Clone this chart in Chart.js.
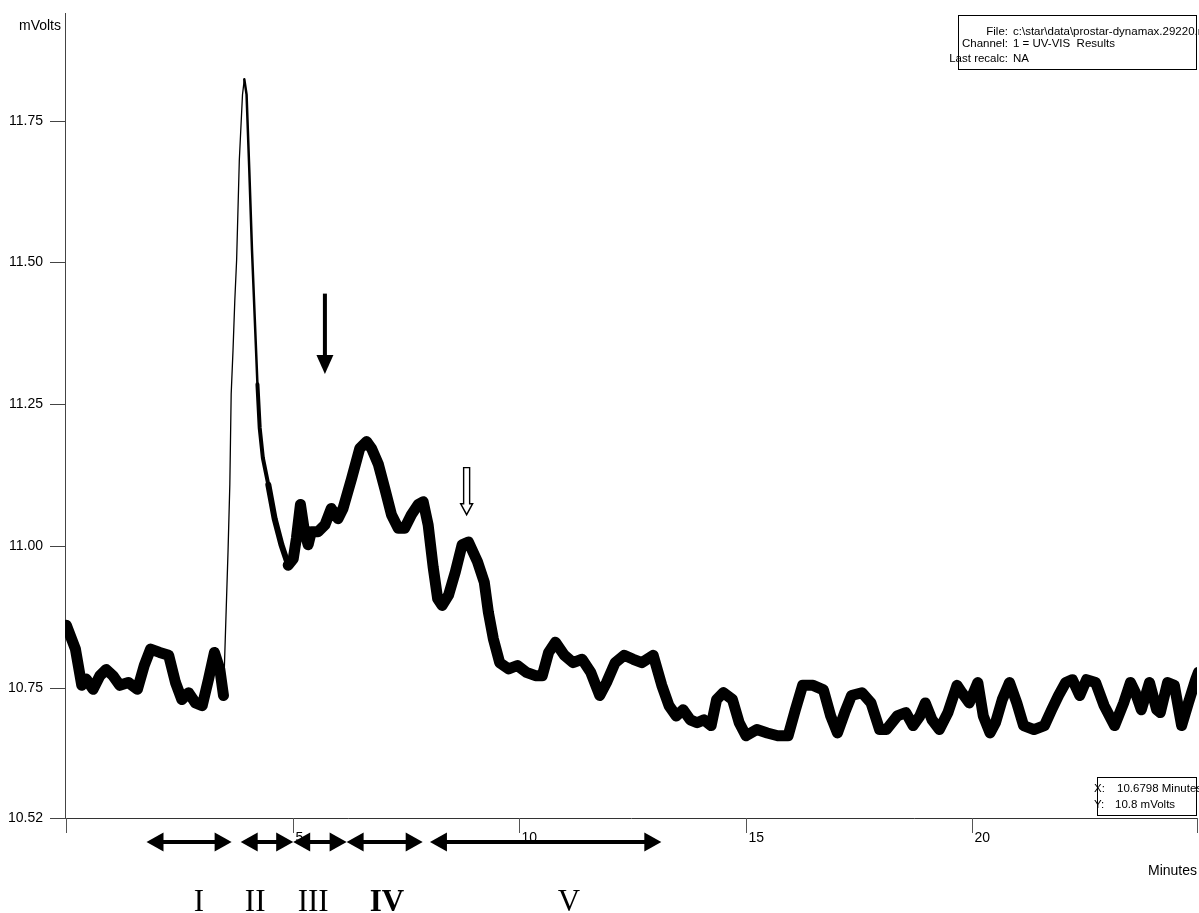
<!DOCTYPE html>
<html>
<head>
<meta charset="utf-8">
<title>UV-VIS Chromatogramm</title>
<script src="https://cdn.jsdelivr.net/npm/chart.js@4.4.1/dist/chart.umd.min.js"></script>
<style>
  html, body { margin: 0; padding: 0; background: #fff; }
  #wrap { position: absolute; left: 0; top: 0; width: 1199px; height: 913px; }
</style>
</head>
<body>
<div id="wrap"><canvas id="chart" width="1199" height="913"></canvas></div>
<script>
const timeMin = [0.00,0.20,0.34,0.44,0.59,0.74,0.88,1.03,1.18,1.37,1.57,1.72,1.86,2.06,2.26,2.41,2.55,2.70,2.85,3.00,
  3.14,3.27,3.39,3.47,3.57,3.61,3.64,3.68,3.72,3.76,3.82,3.89,3.93,3.98,4.04,4.10,4.16,4.22,4.27,4.34,
  4.46,4.60,4.75,4.90,5.01,5.08,5.17,5.26,5.34,5.41,5.56,5.71,5.85,6.00,6.11,6.30,6.48,6.63,6.74,6.89,
  7.03,7.18,7.33,7.47,7.62,7.77,7.88,7.99,8.10,8.20,8.30,8.44,8.59,8.74,8.88,9.08,9.23,9.32,9.43,9.57,
  9.77,9.96,10.16,10.36,10.51,10.65,10.80,11.00,11.19,11.39,11.58,11.78,11.93,12.12,12.32,12.52,12.71,12.96,13.15,13.31,
  13.47,13.62,13.78,13.93,14.08,14.24,14.36,14.51,14.71,14.86,15.01,15.25,15.48,15.71,15.94,16.10,16.26,16.49,16.72,16.88,
  17.03,17.19,17.34,17.57,17.77,17.96,18.11,18.35,18.54,18.70,18.85,18.97,19.12,19.28,19.47,19.67,19.78,19.94,20.13,20.25,
  20.40,20.52,20.67,20.83,20.99,21.14,21.37,21.60,21.76,21.91,22.07,22.22,22.38,22.53,22.73,22.92,23.15,23.35,23.50,23.61,
  23.74,23.92,24.08,24.16,24.32,24.47,24.63,24.78,24.94,25.00];

const signalMv = [10.860,10.818,10.754,10.765,10.747,10.771,10.782,10.771,10.754,10.759,10.747,10.789,10.818,10.812,10.807,10.759,10.729,10.741,10.723,10.718,
  10.765,10.812,10.782,10.736,10.989,11.108,11.268,11.344,11.433,11.504,11.681,11.796,11.823,11.796,11.663,11.521,11.403,11.285,11.208,11.155,
  11.108,11.048,11.002,10.966,10.977,11.013,11.073,11.025,11.002,11.025,11.025,11.037,11.066,11.048,11.066,11.119,11.172,11.184,11.172,11.144,
  11.102,11.055,11.031,11.031,11.055,11.073,11.078,11.037,10.963,10.907,10.895,10.913,10.954,11.002,11.007,10.972,10.936,10.883,10.836,10.794,
  10.783,10.789,10.777,10.771,10.771,10.812,10.830,10.807,10.794,10.800,10.777,10.736,10.759,10.794,10.807,10.800,10.794,10.807,10.754,10.718,
  10.700,10.711,10.693,10.688,10.693,10.683,10.729,10.741,10.729,10.688,10.665,10.676,10.670,10.665,10.665,10.711,10.754,10.754,10.746,10.700,
  10.670,10.706,10.736,10.741,10.723,10.676,10.676,10.700,10.706,10.683,10.700,10.723,10.693,10.676,10.706,10.754,10.741,10.723,10.759,10.700,
  10.670,10.688,10.729,10.759,10.723,10.683,10.676,10.683,10.711,10.736,10.759,10.764,10.736,10.764,10.759,10.718,10.683,10.723,10.759,10.741,
  10.711,10.759,10.711,10.706,10.759,10.754,10.683,10.723,10.764,10.777];

// Achsen
const yTickValues = [10.52, 10.75, 11.00, 11.25, 11.50, 11.75];
const xTickValues = [0, 5, 10, 15, 20, 25];
const xTickLabels = ['', '5', '10', '15', '20', ''];

// Fraktionen unter der Zeitachse (Minuten)
const fractionLabels = ['I', 'II', 'III', 'IV', 'V'];
const fractionStart = [1.77, 3.85, 5.01, 6.19, 8.03];
const fractionEnd = [3.65, 5.01, 6.19, 7.87, 13.14];
const fractionLabelAt = [2.93, 4.17, 5.45, 7.08, 11.10];

// Pfeile im Chromatogramm: [Minute, von mV, bis mV]
const solidArrow = [5.71, 11.445, 11.303];
const hollowArrow = [8.84, 11.138, 11.055];

// Textkästen
const infoLabels = ['File:', 'Channel:', 'Last recalc:'];
const infoValues = ['c:\\star\\data\\prostar-dynamax.29220.run', '1 = UV-VIS  Results', 'NA'];
const cursorLabels = ['X:', 'Y:'];
const cursorValues = ['10.6798 Minutes', '10.8 mVolts'];

const SANS = '"Liberation Sans", Arial, sans-serif';
const SERIF = '"Liberation Serif", "Times New Roman", serif';

const points = timeMin.map((t, i) => ({ x: t, y: signalMv[i] }));

// Hilfsfunktion: Linienbreite je nach Abschnitt (Anstieg dünn, Rauschen dick)
function segmentWidth(ctx) {
    const t = ctx.p0.parsed.x;
    if (t >= 3.45 && t < 3.93) return 1.3;
    if (t >= 3.93 && t < 4.22) return 2.5;
    if (t >= 4.22 && t < 4.46) return 4;
    if (t >= 4.46 && t < 4.9) return 6;
    return 11;
}

function drawDoubleArrow(ctx, x1, x2, y) {
    const head = 17, half = 9.5;
    ctx.beginPath();
    ctx.lineWidth = 4;
    ctx.moveTo(x1 + head - 2, y);
    ctx.lineTo(x2 - head + 2, y);
    ctx.stroke();
    ctx.beginPath();
    ctx.moveTo(x1, y);
    ctx.lineTo(x1 + head, y - half);
    ctx.lineTo(x1 + head, y + half);
    ctx.closePath();
    ctx.fill();
    ctx.beginPath();
    ctx.moveTo(x2, y);
    ctx.lineTo(x2 - head, y - half);
    ctx.lineTo(x2 - head, y + half);
    ctx.closePath();
    ctx.fill();
}

const decorations = {
    id: 'decorations',
    afterDraw(chart) {
        const ctx = chart.ctx;
        const xs = chart.scales.x;
        const ys = chart.scales.y;
        const area = chart.chartArea;
        ctx.save();
        ctx.fillStyle = '#000';
        ctx.strokeStyle = '#000';

        // Y-Achse: Striche und Beschriftung
        ctx.font = '14px ' + SANS;
        ctx.textAlign = 'right';
        ctx.textBaseline = 'middle';
        yTickValues.forEach(v => {
            const y = Math.round(ys.getPixelForValue(v)) + 0.5;
            ctx.beginPath();
            ctx.lineWidth = 1;
            ctx.strokeStyle = '#444';
            ctx.moveTo(area.left - 15, y);
            ctx.lineTo(area.left, y);
            ctx.stroke();
            ctx.fillText(v.toFixed(2), area.left - 22, y);
        });
        ctx.fillText('mVolts', area.left - 4, 26);

        // X-Achse: Striche nach unten, Zahl rechts daneben
        ctx.textAlign = 'left';
        ctx.textBaseline = 'alphabetic';
        xTickValues.forEach((v, i) => {
            const x = Math.min(Math.round(xs.getPixelForValue(v)), 1197) + 0.5;
            ctx.beginPath();
            ctx.strokeStyle = '#555';
            ctx.moveTo(x, area.bottom);
            ctx.lineTo(x, area.bottom + 15);
            ctx.stroke();
            if (xTickLabels[i]) ctx.fillText(xTickLabels[i], x + 2, area.bottom + 24);
        });
        ctx.textAlign = 'right';
        ctx.fillText('Minutes', 1197, 875);

        // Fraktionspfeile und römische Ziffern
        ctx.strokeStyle = '#000';
        fractionLabels.forEach((lab, i) => {
            drawDoubleArrow(ctx, xs.getPixelForValue(fractionStart[i]), xs.getPixelForValue(fractionEnd[i]), 842);
            ctx.font = (lab === 'IV' ? 'bold ' : '') + '31px ' + SERIF;
            ctx.textAlign = 'center';
            ctx.fillText(lab, xs.getPixelForValue(fractionLabelAt[i]), 911);
        });

        // Gefüllter Pfeil
        let ax = xs.getPixelForValue(solidArrow[0]);
        let y1 = ys.getPixelForValue(solidArrow[1]);
        let y2 = ys.getPixelForValue(solidArrow[2]);
        ctx.fillRect(ax - 2, y1, 4, y2 - y1 - 17);
        ctx.beginPath();
        ctx.moveTo(ax - 8.5, y2 - 19);
        ctx.lineTo(ax + 8.5, y2 - 19);
        ctx.lineTo(ax, y2);
        ctx.closePath();
        ctx.fill();

        // Hohler Pfeil
        ax = xs.getPixelForValue(hollowArrow[0]);
        y1 = ys.getPixelForValue(hollowArrow[1]);
        y2 = ys.getPixelForValue(hollowArrow[2]);
        ctx.beginPath();
        ctx.moveTo(ax - 3, y1);
        ctx.lineTo(ax + 3, y1);
        ctx.lineTo(ax + 3, y2 - 11);
        ctx.lineTo(ax + 6, y2 - 11);
        ctx.lineTo(ax, y2);
        ctx.lineTo(ax - 6, y2 - 11);
        ctx.lineTo(ax - 3, y2 - 11);
        ctx.closePath();
        ctx.fillStyle = '#fff';
        ctx.fill();
        ctx.lineWidth = 1.4;
        ctx.stroke();

        // Infokasten oben rechts
        ctx.fillStyle = '#fff';
        ctx.fillRect(958, 15, 239, 54);
        ctx.lineWidth = 1;
        ctx.strokeStyle = '#000';
        ctx.strokeRect(958.5, 15.5, 238, 54);
        ctx.fillStyle = '#000';
        ctx.font = '11.5px ' + SANS;
        ctx.textBaseline = 'middle';
        const infoY = [32, 44, 59];
        infoLabels.forEach((lab, i) => {
            ctx.textAlign = 'right';
            ctx.fillText(lab, 1008, infoY[i]);
            ctx.textAlign = 'left';
            ctx.fillText(infoValues[i], 1013, infoY[i]);
        });

        // Cursor-Kasten unten rechts
        ctx.fillStyle = '#fff';
        ctx.fillRect(1097, 777, 100, 38);
        ctx.strokeRect(1097.5, 777.5, 99, 38);
        ctx.fillStyle = '#000';
        const curY = [789, 805];
        const curX = [1117, 1115];
        cursorLabels.forEach((lab, i) => {
            ctx.textAlign = 'left';
            ctx.fillText(lab, 1094, curY[i]);
            ctx.fillText(cursorValues[i], curX[i], curY[i]);
        });
        ctx.restore();
    }
};

const chart = new Chart(document.getElementById('chart'), {
    type: 'line',
    data: {
        datasets: [{
            label: 'UV-VIS',
            data: points,
            borderColor: '#000',
            borderWidth: 11,
            borderJoinStyle: 'round',
            borderCapStyle: 'round',
            pointRadius: 0,
            tension: 0,
            fill: false,
            segment: { borderWidth: segmentWidth }
        }]
    },
    options: {
        responsive: false,
        animation: false,
        devicePixelRatio: 1,
        layout: { padding: { top: 13, right: 2, left: 0, bottom: 0 } },
        plugins: { legend: { display: false }, tooltip: { enabled: false } },
        scales: {
            x: {
                type: 'linear',
                min: -0.03,
                max: 24.97,
                grid: { display: false },
                border: { display: true, color: '#333', width: 1 },
                ticks: { display: false },
                afterFit: scale => { scale.height = 95; }
            },
            y: {
                min: 10.52,
                max: 11.94,
                grid: { display: false },
                border: { display: true, color: '#444', width: 1 },
                ticks: { display: false },
                afterFit: scale => { scale.width = 65; }
            }
        }
    },
    plugins: [decorations]
});
</script>
</body>
</html>
